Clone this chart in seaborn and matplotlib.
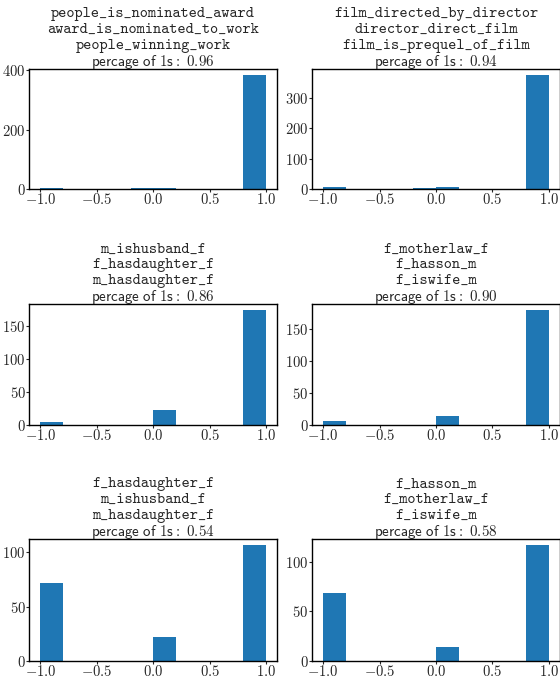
import matplotlib
matplotlib.use("Agg")
import matplotlib.pyplot as plt
import numpy as np
import pandas as pd
import seaborn as sns
from matplotlib.ticker import FuncFormatter, MultipleLocator

sns.set_style("ticks")
plt.rcParams["mathtext.fontset"] = "cm"
plt.rcParams["axes.linewidth"] = 1.0

# Relation triples shown in each panel
titles = [
    ["people_is_nominated_award", "award_is_nominated_to_work", "people_winning_work"],
    ["film_directed_by_director", "director_direct_film", "film_is_prequel_of_film"],
    ["m_ishusband_f", "f_hasdaughter_f", "m_hasdaughter_f"],
    ["f_motherlaw_f", "f_hasson_m", "f_iswife_m"],
    ["f_hasdaughter_f", "m_ishusband_f", "m_hasdaughter_f"],
    ["f_hasson_m", "f_motherlaw_f", "f_iswife_m"],
]
ratios = ["0.96", "0.94", "0.86", "0.90", "0.54", "0.58"]

# histogram counts, 10 bins over [-1, 1]
counts = [
    [2, 0, 0, 0, 5, 5, 0, 0, 0, 385],
    [8, 0, 0, 0, 4, 8, 0, 0, 0, 376],
    [5, 0, 0, 0, 0, 22, 0, 0, 0, 174],
    [7, 0, 0, 0, 0, 14, 0, 0, 0, 180],
    [72, 0, 0, 0, 0, 22, 0, 0, 0, 107],
    [69, 0, 0, 0, 0, 14, 0, 0, 0, 117],
]
ytick_steps = [200, 100, 50, 50, 50, 50]

centers = np.linspace(-0.9, 0.9, 10)

fig = plt.figure(figsize=(5.6, 6.77), dpi=100)

lefts = [0.052, 0.557]
rows = [(0.7208, 0.1773), (0.3722, 0.1787), (0.0236, 0.1802)]

for i in range(6):
    r, c = divmod(i, 2)
    bottom, height = rows[r]
    ax = fig.add_axes([lefts[c], bottom, 0.443, height])
    df = pd.DataFrame({"x": centers, "w": counts[i]})
    sns.histplot(data=df, x="x", weights="w", bins=10, binrange=(-1, 1), ax=ax,
                 color="#1f77b4", alpha=1, linewidth=0)
    ax.set_xlabel("")
    ax.set_ylabel("")
    ax.set_xlim(-1.1, 1.1)
    ax.set_ylim(0, max(counts[i]) * 1.05)
    ax.set_xticks([-1.0, -0.5, 0.0, 0.5, 1.0])
    ax.yaxis.set_major_locator(MultipleLocator(ytick_steps[i]))
    ax.xaxis.set_major_formatter(FuncFormatter(lambda v, p: "$%.1f$" % v))
    ax.yaxis.set_major_formatter(FuncFormatter(lambda v, p: "$%d$" % v))
    ax.tick_params(labelsize=10.5, length=2, pad=0.5)
    for s in ax.spines.values():
        s.set_color("black")
    # title: three relation names in typewriter, then the ratio line
    ax.annotate(r"$\mathsf{percage\ of\ 1s{:}}\ " + ratios[i] + "$", xy=(0.5, 1),
                xycoords="axes fraction", xytext=(0, 3), textcoords="offset pixels",
                ha="center", va="baseline", fontsize=10.8)
    ax.annotate("\n".join(titles[i]), xy=(0.5, 1), xycoords="axes fraction",
                xytext=(0, 20), textcoords="offset pixels", ha="center", va="baseline",
                family="cmtt10", fontsize=11.2, linespacing=1.18)

fig.savefig("out.png", dpi=100)
